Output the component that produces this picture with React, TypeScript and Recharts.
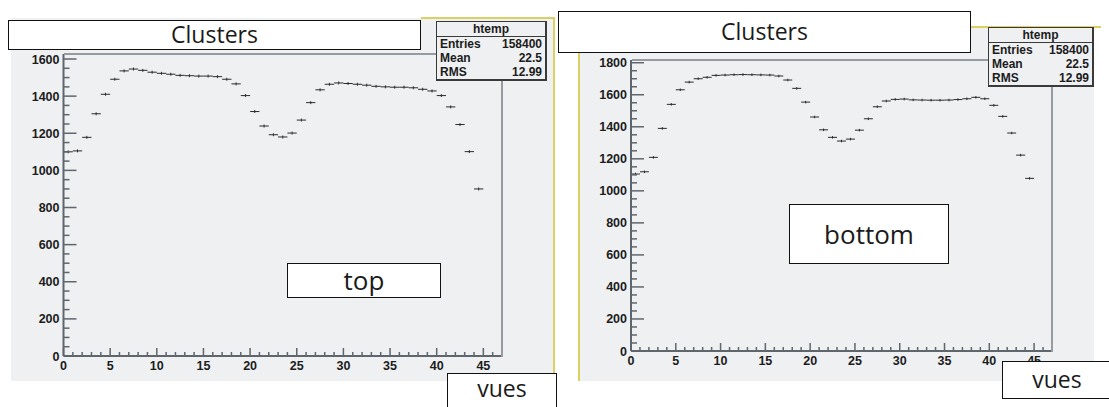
import React from "react";
import { ScatterChart, Scatter, XAxis, YAxis, ErrorBar } from "recharts";

// 45 bins of width 1, from 0 to 45 ("vues")
const binCenters = Array.from({ length: 45 }, (_, i) => i + 0.5);
const binHalfWidth = 0.5;

const topCounts = [
  1100, 1105, 1178, 1305, 1410, 1491, 1536, 1546, 1539, 1529,
  1523, 1518, 1512, 1510, 1508, 1508, 1505, 1491, 1466, 1403,
  1317, 1239, 1192, 1180, 1201, 1271, 1365, 1434, 1464, 1471,
  1468, 1464, 1459, 1453, 1450, 1448, 1448, 1445, 1437, 1428,
  1403, 1342, 1247, 1101, 900,
];

const bottomCounts = [
  1105, 1119, 1209, 1390, 1540, 1631, 1679, 1700, 1709, 1721,
  1723, 1725, 1726, 1725, 1724, 1723, 1717, 1692, 1640, 1554,
  1461, 1381, 1334, 1311, 1323, 1379, 1450, 1525, 1561, 1571,
  1573, 1568, 1567, 1566, 1566, 1567, 1570, 1575, 1584, 1575,
  1534, 1465, 1361, 1223, 1078,
];

const topYMajor = [0, 200, 400, 600, 800, 1000, 1200, 1400, 1600];
const bottomYMajor = [0, 200, 400, 600, 800, 1000, 1200, 1400, 1600, 1800];
const xMajor = [0, 5, 10, 15, 20, 25, 30, 35, 40, 45];

const statName = "htemp";
const statEntries = "158400";
const statMean = "22.5";
const statRms = "12.99";

const AXIS = "#5f666d";
const FRAME = "#959ba1";
const BG = "#eef0f2";
const YELLOW = "#dcd062";
const MARK = "#2b2b2b";
const statErr = 8;

const withMinor = (major: number[], parts: number) => {
  const out: number[] = [];
  for (let i = 0; i < major.length - 1; i++) {
    const step = (major[i + 1] - major[i]) / parts;
    for (let k = 0; k < parts; k++) out.push(major[i] + k * step);
  }
  out.push(major[major.length - 1]);
  return out;
};

const xTicks = [...withMinor(xMajor, 5), 46];

const toRows = (counts: number[]) =>
  counts.map((c, i) => ({ x: binCenters[i], y: c, ex: binHalfWidth, ey: statErr }));

const YTick = (props: any) => {
  const { x, y, payload } = props;
  const v = payload.value;
  const major = v % 200 === 0;
  return (
    <g>
      <line x1={x} x2={x + (major ? 13 : 6)} y1={y} y2={y} stroke={AXIS} strokeWidth={1.5} />
      {major && (
        <text
          x={x - 4}
          y={y}
          dy={4.5}
          textAnchor="end"
          fontFamily="Liberation Sans, Arial, sans-serif"
          fontWeight="bold"
          fontSize={12.5}
          fill="#1c1c1c"
        >
          {v}
        </text>
      )}
    </g>
  );
};

const XTick = (props: any) => {
  const { x, y, payload } = props;
  const v = payload.value;
  const major = v % 5 === 0;
  return (
    <g>
      <line x1={x} x2={x} y1={y} y2={y - (major ? 8 : 4)} stroke={AXIS} strokeWidth={1.5} />
      {major && (
        <text
          x={x}
          y={y}
          dy={14}
          textAnchor="middle"
          fontFamily="Liberation Sans, Arial, sans-serif"
          fontWeight="bold"
          fontSize={12.5}
          fill="#1c1c1c"
        >
          {v}
        </text>
      )}
    </g>
  );
};

const Hist = ({
  counts,
  yMax,
  yMajor,
  width,
  margin,
}: {
  counts: number[];
  yMax: number;
  yMajor: number[];
  width: number;
  margin: { top: number; right: number; bottom: number; left: number };
}) => (
  <ScatterChart width={width} height={407} margin={margin}>
    <XAxis
      type="number"
      dataKey="x"
      domain={[0, 47]}
      ticks={xTicks}
      interval={0}
      allowDataOverflow
      height={20}
      tickSize={0}
      tickMargin={0}
      tickLine={false}
      axisLine={{ stroke: AXIS, strokeWidth: 2 }}
      tick={<XTick />}
    />
    <YAxis
      type="number"
      dataKey="y"
      domain={[0, yMax]}
      ticks={withMinor(yMajor, 4)}
      interval={0}
      allowDataOverflow
      width={50}
      tickSize={0}
      tickMargin={0}
      tickLine={false}
      axisLine={{ stroke: AXIS, strokeWidth: 2 }}
      tick={<YTick />}
    />
    <Scatter data={toRows(counts)} isAnimationActive={false} shape={() => <g />}>
      <ErrorBar dataKey="ex" direction="x" width={0} stroke={MARK} strokeWidth={1} />
      <ErrorBar dataKey="ey" direction="y" width={0} stroke={MARK} strokeWidth={1} />
    </Scatter>
  </ScatterChart>
);

const StatBox = ({ left, top, width }: { left: number; top: number; width: number }) => {
  const row: React.CSSProperties = {
    display: "flex",
    justifyContent: "space-between",
    padding: "0 3px",
    height: 14,
    lineHeight: "14px",
  };
  return (
    <div
      style={{
        position: "absolute",
        left,
        top,
        width,
        background: BG,
        border: "1px solid #3a3a3a",
        borderRightWidth: 2,
        borderBottomWidth: 2,
        fontFamily: "Liberation Sans, Arial, sans-serif",
        fontWeight: "bold",
        fontSize: 12,
        color: "#1c1c1c",
        boxSizing: "border-box",
      }}
    >
      <div style={{ textAlign: "center", height: 14, lineHeight: "14px", borderBottom: "1px solid #3a3a3a" }}>
        {statName}
      </div>
      <div style={row}>
        <span>Entries</span>
        <span>{statEntries}</span>
      </div>
      <div style={row}>
        <span>Mean</span>
        <span>{statMean}</span>
      </div>
      <div style={row}>
        <span>RMS</span>
        <span>{statRms}</span>
      </div>
    </div>
  );
};

const LabelBox = ({
  text,
  left,
  top,
  width,
  height,
  size = 24,
  padBottom = 0,
}: {
  text: string;
  left: number;
  top: number;
  width: number;
  height: number;
  size?: number;
  padBottom?: number;
}) => (
  <div
    style={{
      position: "absolute",
      left,
      top,
      width,
      height,
      boxSizing: "border-box",
      border: "1.5px solid #111",
      background: "#fff",
      display: "flex",
      alignItems: "center",
      justifyContent: "center",
      paddingBottom: padBottom,
      fontFamily: "Open Sans, Noto Sans, sans-serif",
      fontSize: size,
      lineHeight: 1.1,
      color: "#1a1a1a",
    }}
  >
    {text}
  </div>
);

const abs = (s: React.CSSProperties): React.CSSProperties => ({ position: "absolute", ...s });

const App: React.FC = () => (
  <div style={{ position: "absolute", left: 0, top: 0, width: 1109, height: 407, overflow: "hidden", background: "#fff" }}>
    {/* panel backgrounds */}
    <div style={abs({ left: 11, top: 18, width: 543, height: 363, background: BG })} />
    <div style={abs({ left: 579, top: 27, width: 515, height: 354, background: BG })} />
    {/* yellow pad borders */}
    <div style={abs({ left: 421, top: 17, width: 134, height: 2, background: YELLOW })} />
    <div style={abs({ left: 553, top: 17, width: 2, height: 364, background: YELLOW })} />
    <div style={abs({ left: 971, top: 26, width: 130, height: 2, background: YELLOW })} />
    <div style={abs({ left: 578, top: 27, width: 2, height: 354, background: YELLOW })} />

    <div style={abs({ left: 0, top: 0 })}>
      <Hist
        counts={topCounts}
        yMax={1627}
        yMajor={topYMajor}
        width={560}
        margin={{ top: 54, right: 58, bottom: 31, left: 13.5 }}
      />
    </div>
    <div style={abs({ left: 560, top: 0 })}>
      <Hist
        counts={bottomCounts}
        yMax={1817}
        yMajor={bottomYMajor}
        width={549}
        margin={{ top: 60, right: 57, bottom: 36, left: 21 }}
      />
    </div>

    {/* frame top/right */}
    <div style={abs({ left: 64, top: 53, width: 437, height: 302, borderTop: `2.5px solid ${FRAME}`, borderRight: `2px solid ${FRAME}` })} />
    <div style={abs({ left: 632, top: 59, width: 419, height: 291, borderTop: `2.5px solid ${FRAME}`, borderRight: `2px solid ${FRAME}` })} />

    <StatBox left={436} top={21} width={111} />
    <StatBox left={988} top={27} width={106} />

    <LabelBox text="Clusters" left={8} top={20} width={413} height={30} size={23} />
    <LabelBox text="Clusters" left={558} top={11} width={413} height={42} size={23} />
    <LabelBox text="top" left={287} top={263} width={154} height={35} size={26} />
    <LabelBox text="bottom" left={789} top={204} width={160} height={60} size={26} />
    <LabelBox text="vues" left={447} top={373} width={110} height={40} size={23} padBottom={9} />
    <LabelBox text="vues" left={1002} top={361} width={110} height={38} size={23} />
  </div>
);

export default App;
